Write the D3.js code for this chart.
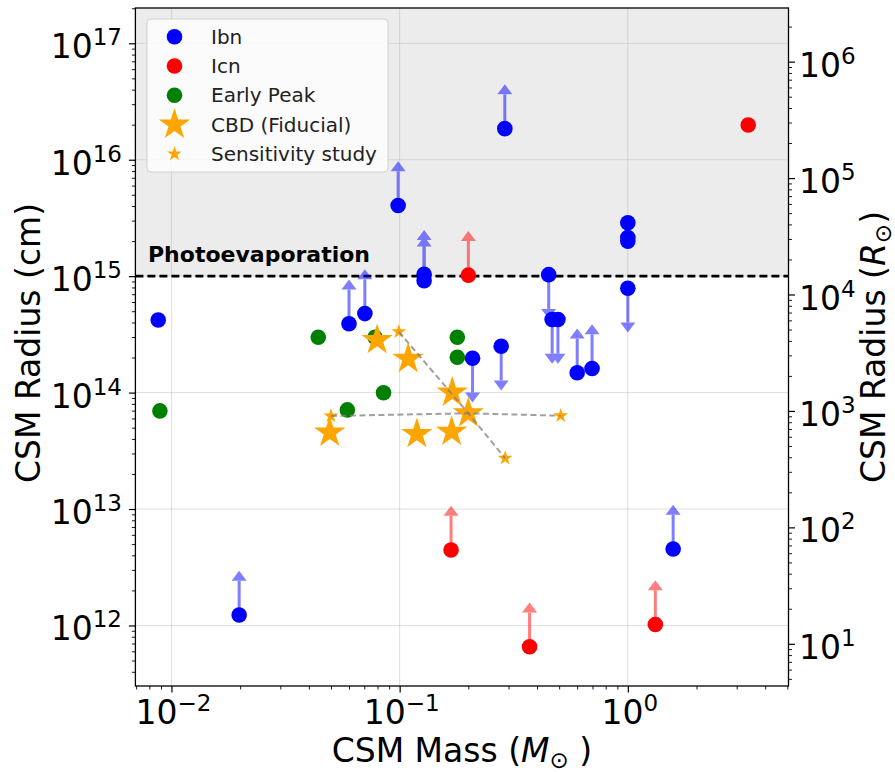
<!DOCTYPE html>
<html>
<head>
<meta charset="utf-8">
<script src="https://cdn.jsdelivr.net/npm/d3@7"></script>
<style>
  body { margin: 0; background: #fff; }
  svg { font-family: "DejaVu Sans", sans-serif; }
</style>
</head>
<body>
<div id="chart"></div>
<script>
// Ibn: limit 1 = lower limit (arrow up), -1 = upper limit (arrow down)
const ibnMass   = [0.00875, 0.0198, 0.060, 0.0704, 0.0985, 0.128, 0.128, 0.289, 0.2087, 0.2786, 0.45, 0.466, 0.494, 0.60, 0.697, 1.0, 1.0, 1.0, 1.0, 1.58];
const ibnRadius = [4.2e14, 1.23e12, 3.9e14, 4.77e14, 4.04e15, 1.04e15, 9.15e14, 1.85e16, 1.97e14, 2.5e14, 1.03e15, 4.25e14, 4.25e14, 1.48e14, 1.61e14, 2.88e15, 2.15e15, 2.0e15, 7.87e14, 4.53e12];
const ibnLimit  = [0, 1, 1, 1, 1, 1, 1, 1, -1, -1, -1, -1, -1, 1, 1, 0, 0, 0, -1, 1];

const icnMass   = [0.2, 3.37, 0.168, 0.371, 1.32];
const icnRadius = [1.02e15, 1.99e16, 4.45e12, 6.56e11, 1.02e12];
const icnLimit  = [1, 0, 1, 1, 1];

const earlyMass   = [0.0089, 0.044, 0.078, 0.179, 0.179, 0.085, 0.059];
const earlyRadius = [6.96e13, 2.99e14, 2.99e14, 2.99e14, 2.01e14, 9.98e13, 7.1e13];

const cbdMass   = [0.0797, 0.109, 0.170, 0.2, 0.0494, 0.119, 0.169];
const cbdRadius = [2.83e14, 1.95e14, 1.0e14, 6.64e13, 4.53e13, 4.41e13, 4.61e13];

const sensMass   = [0.0992, 0.29, 0.05, 0.508];
const sensRadius = [3.33e14, 2.73e13, 6.3e13, 6.33e13];

// dashed tracks through the fiducial model
const massTrackMass   = [0.05, 0.2, 0.508];
const massTrackRadius = [6.3e13, 6.64e13, 6.33e13];
const velTrackMass    = [0.0992, 0.2, 0.29];
const velTrackRadius  = [3.33e14, 6.64e13, 2.73e13];

const xTicks = [1e-2, 1e-1, 1e0];
const yTicks = [1e12, 1e13, 1e14, 1e15, 1e16, 1e17];
const yRightTicks = [1e1, 1e2, 1e3, 1e4, 1e5, 1e6];

const photoRadius = 1e15;
const RSUN = 6.957e10;
const arrowFactor = 2.4;

const W = 895, H = 772;
const pLeft = 135.4, pRight = 788.5, pTop = 8, pBottom = 686;

const x = d3.scaleLog().domain([0.00695, 5.06]).range([pLeft, pRight]);
const y = d3.scaleLog().domain([3.02e11, 2.01e17]).range([pBottom, pTop]);
const yR = d3.scaleLog().domain(y.domain().map(v => v / RSUN)).range([pBottom, pTop]);

const svg = d3.select("#chart").append("svg")
  .attr("width", W).attr("height", H);

svg.append("defs").append("clipPath").attr("id", "clip")
  .append("rect").attr("x", pLeft).attr("y", pTop)
  .attr("width", pRight - pLeft).attr("height", pBottom - pTop);

const plot = svg.append("g").attr("clip-path", "url(#clip)");

// shaded photoevaporation region
plot.append("rect")
  .attr("x", pLeft).attr("y", pTop)
  .attr("width", pRight - pLeft).attr("height", y(photoRadius) - pTop)
  .attr("fill", "#ececec");

// grid
plot.append("g").selectAll("line").data(xTicks).join("line")
  .attr("x1", d => x(d)).attr("x2", d => x(d))
  .attr("y1", pTop).attr("y2", pBottom)
  .attr("stroke", "#b0b0b0").attr("stroke-opacity", 0.4).attr("stroke-width", 1);
plot.append("g").selectAll("line").data(yTicks).join("line")
  .attr("y1", d => y(d)).attr("y2", d => y(d))
  .attr("x1", pLeft).attr("x2", pRight)
  .attr("stroke", "#b0b0b0").attr("stroke-opacity", 0.4).attr("stroke-width", 1);

// photoevaporation line
plot.append("line")
  .attr("x1", pLeft).attr("x2", pRight)
  .attr("y1", y(photoRadius)).attr("y2", y(photoRadius))
  .attr("stroke", "#000").attr("stroke-width", 2.6).attr("stroke-dasharray", "8,4");

svg.append("text")
  .attr("x", 148).attr("y", y(photoRadius) - 14)
  .attr("font-size", 22).attr("font-weight", "bold")
  .text("Photoevaporation");

// limit arrows
function drawArrows(mass, radius, limit, color) {
  const g = plot.append("g").attr("opacity", 0.5);
  mass.forEach((m, i) => {
    if (!limit[i]) return;
    const x0 = x(m), y0 = y(radius[i]);
    const tip = y(limit[i] > 0 ? radius[i] * arrowFactor : radius[i] / arrowFactor);
    const dir = limit[i] > 0 ? 1 : -1;
    const headLen = 10, headW = 7.5;
    g.append("line")
      .attr("x1", x0).attr("x2", x0)
      .attr("y1", y0).attr("y2", tip + dir * headLen)
      .attr("stroke", color).attr("stroke-width", 3);
    g.append("path")
      .attr("d", `M${x0},${tip}L${x0 - headW},${tip + dir * headLen}L${x0 + headW},${tip + dir * headLen}Z`)
      .attr("fill", color);
  });
}
drawArrows(ibnMass, ibnRadius, ibnLimit, "blue");
drawArrows(icnMass, icnRadius, icnLimit, "red");

function drawDots(mass, radius, color) {
  plot.append("g").selectAll("circle").data(mass).join("circle")
    .attr("cx", d => x(d)).attr("cy", (d, i) => y(radius[i]))
    .attr("r", 7.8).attr("fill", color);
}
drawDots(ibnMass, ibnRadius, "blue");
drawDots(icnMass, icnRadius, "red");
drawDots(earlyMass, earlyRadius, "green");

function starPath(R) {
  const r = R * 0.382;
  const pts = [];
  for (let k = 0; k < 10; k++) {
    const a = -Math.PI / 2 + k * Math.PI / 5;
    const rr = k % 2 === 0 ? R : r;
    pts.push([rr * Math.cos(a), rr * Math.sin(a)]);
  }
  return "M" + pts.map(p => p[0].toFixed(2) + "," + p[1].toFixed(2)).join("L") + "Z";
}

plot.append("g").selectAll("path").data(cbdMass).join("path")
  .attr("transform", (d, i) => `translate(${x(d)},${y(cbdRadius[i])})`)
  .attr("d", starPath(16.5)).attr("fill", "orange");

plot.append("g").selectAll("path").data(sensMass).join("path")
  .attr("transform", (d, i) => `translate(${x(d)},${y(sensRadius[i])})`)
  .attr("d", starPath(7.8)).attr("fill", "orange");

const track = d3.line().x(d => x(d[0])).y(d => y(d[1]));
[[massTrackMass, massTrackRadius], [velTrackMass, velTrackRadius]].forEach(([ms, rs]) => {
  plot.append("path")
    .attr("d", track(ms.map((m, i) => [m, rs[i]])))
    .attr("fill", "none").attr("stroke", "gray").attr("stroke-opacity", 0.75)
    .attr("stroke-width", 2).attr("stroke-dasharray", "6,3.5");
});

// axes
function minorTicks(scale) {
  const [a, b] = scale.domain();
  const out = [];
  for (let e = Math.floor(Math.log10(a)); e <= Math.ceil(Math.log10(b)); e++) {
    for (let k = 2; k <= 9; k++) {
      const v = k * Math.pow(10, e);
      if (v >= a && v <= b) out.push(v);
    }
  }
  return out;
}

function styleAxis(g) {
  g.select(".domain").remove();
  g.selectAll("line").attr("stroke", "#000");
}

svg.append("g").attr("transform", `translate(0,${pBottom})`)
  .call(d3.axisBottom(x).tickValues(xTicks).tickFormat("").tickSize(6.5).tickSizeOuter(0))
  .call(styleAxis).selectAll("line").attr("stroke-width", 1.2);
svg.append("g").attr("transform", `translate(0,${pBottom})`)
  .call(d3.axisBottom(x).tickValues(minorTicks(x)).tickFormat("").tickSize(3.5).tickSizeOuter(0))
  .call(styleAxis).selectAll("line").attr("stroke-width", 0.9);

svg.append("g").attr("transform", `translate(${pLeft},0)`)
  .call(d3.axisLeft(y).tickValues(yTicks).tickFormat("").tickSize(6.5).tickSizeOuter(0))
  .call(styleAxis).selectAll("line").attr("stroke-width", 1.2);
svg.append("g").attr("transform", `translate(${pLeft},0)`)
  .call(d3.axisLeft(y).tickValues(minorTicks(y)).tickFormat("").tickSize(3.5).tickSizeOuter(0))
  .call(styleAxis).selectAll("line").attr("stroke-width", 0.9);

svg.append("g").attr("transform", `translate(${pRight},0)`)
  .call(d3.axisRight(yR).tickValues(yRightTicks).tickFormat("").tickSize(6.5).tickSizeOuter(0))
  .call(styleAxis).selectAll("line").attr("stroke-width", 1.2);
svg.append("g").attr("transform", `translate(${pRight},0)`)
  .call(d3.axisRight(yR).tickValues(minorTicks(yR)).tickFormat("").tickSize(3.5).tickSizeOuter(0))
  .call(styleAxis).selectAll("line").attr("stroke-width", 0.9);

// frame
svg.append("rect")
  .attr("x", pLeft).attr("y", pTop)
  .attr("width", pRight - pLeft).attr("height", pBottom - pTop)
  .attr("fill", "none").attr("stroke", "#000").attr("stroke-width", 1.3);

// tick labels as 10^n
function powLabel(sel, v) {
  const e = Math.round(Math.log10(v));
  sel.append("tspan").text("10");
  sel.append("tspan").attr("font-size", 23).attr("dy", -13)
    .text(e < 0 ? "\u2212" + (-e) : String(e));
}

svg.append("g").selectAll("text").data(xTicks).join("text")
  .attr("x", d => x(d) + 2).attr("y", 724)
  .attr("text-anchor", "middle").attr("font-size", 33)
  .each(function (d) { powLabel(d3.select(this), d); });

svg.append("g").selectAll("text").data(yTicks).join("text")
  .attr("x", 122).attr("y", d => y(d) + 15)
  .attr("text-anchor", "end").attr("font-size", 33)
  .each(function (d) { powLabel(d3.select(this), d); });

svg.append("g").selectAll("text").data(yRightTicks).join("text")
  .attr("x", 799).attr("y", d => yR(d) + 15)
  .attr("text-anchor", "start").attr("font-size", 33)
  .each(function (d) { powLabel(d3.select(this), d); });

// axis titles
const xl = svg.append("text")
  .attr("x", (pLeft + pRight) / 2).attr("y", 762)
  .attr("text-anchor", "middle").attr("font-size", 33);
xl.append("tspan").text("CSM Mass (");
xl.append("tspan").attr("font-style", "italic").text("M");
xl.append("tspan").attr("font-size", 23).attr("dy", 6).text("\u2299");
xl.append("tspan").attr("dy", -6).text(" )");

svg.append("text")
  .attr("transform", `translate(40,${(pTop + pBottom) / 2 - 4}) rotate(-90)`)
  .attr("text-anchor", "middle").attr("font-size", 33)
  .text("CSM Radius (cm)");

const yl = svg.append("text")
  .attr("transform", `translate(885,${(pTop + pBottom) / 2}) rotate(-90)`)
  .attr("text-anchor", "middle").attr("font-size", 33);
yl.append("tspan").text("CSM Radius (");
yl.append("tspan").attr("font-style", "italic").text("R");
yl.append("tspan").attr("font-size", 23).attr("dy", 6).text("\u2299");
yl.append("tspan").attr("dy", -6).text(")");

// legend
const legendItems = [
  { label: "Ibn", type: "dot", color: "blue" },
  { label: "Icn", type: "dot", color: "red" },
  { label: "Early Peak", type: "dot", color: "green" },
  { label: "CBD (Fiducial)", type: "star", size: 16.5 },
  { label: "Sensitivity study", type: "star", size: 7.8 }
];
const lg = svg.append("g");
lg.append("rect")
  .attr("x", 147).attr("y", 19).attr("width", 241).attr("height", 153)
  .attr("rx", 4).attr("fill", "#fff").attr("fill-opacity", 0.8)
  .attr("stroke", "#d0d0d0").attr("stroke-width", 1);
legendItems.forEach((d, i) => {
  const cy = 36.7 + i * 29.3;
  if (d.type === "dot") {
    lg.append("circle").attr("cx", 174.5).attr("cy", cy).attr("r", 7.8).attr("fill", d.color);
  } else {
    lg.append("path").attr("transform", `translate(174.5,${cy})`)
      .attr("d", starPath(d.size)).attr("fill", "orange");
  }
  lg.append("text").attr("x", 211).attr("y", cy + 7)
    .attr("font-size", 20).attr("fill", "#222").text(d.label);
});
</script>
</body>
</html>
